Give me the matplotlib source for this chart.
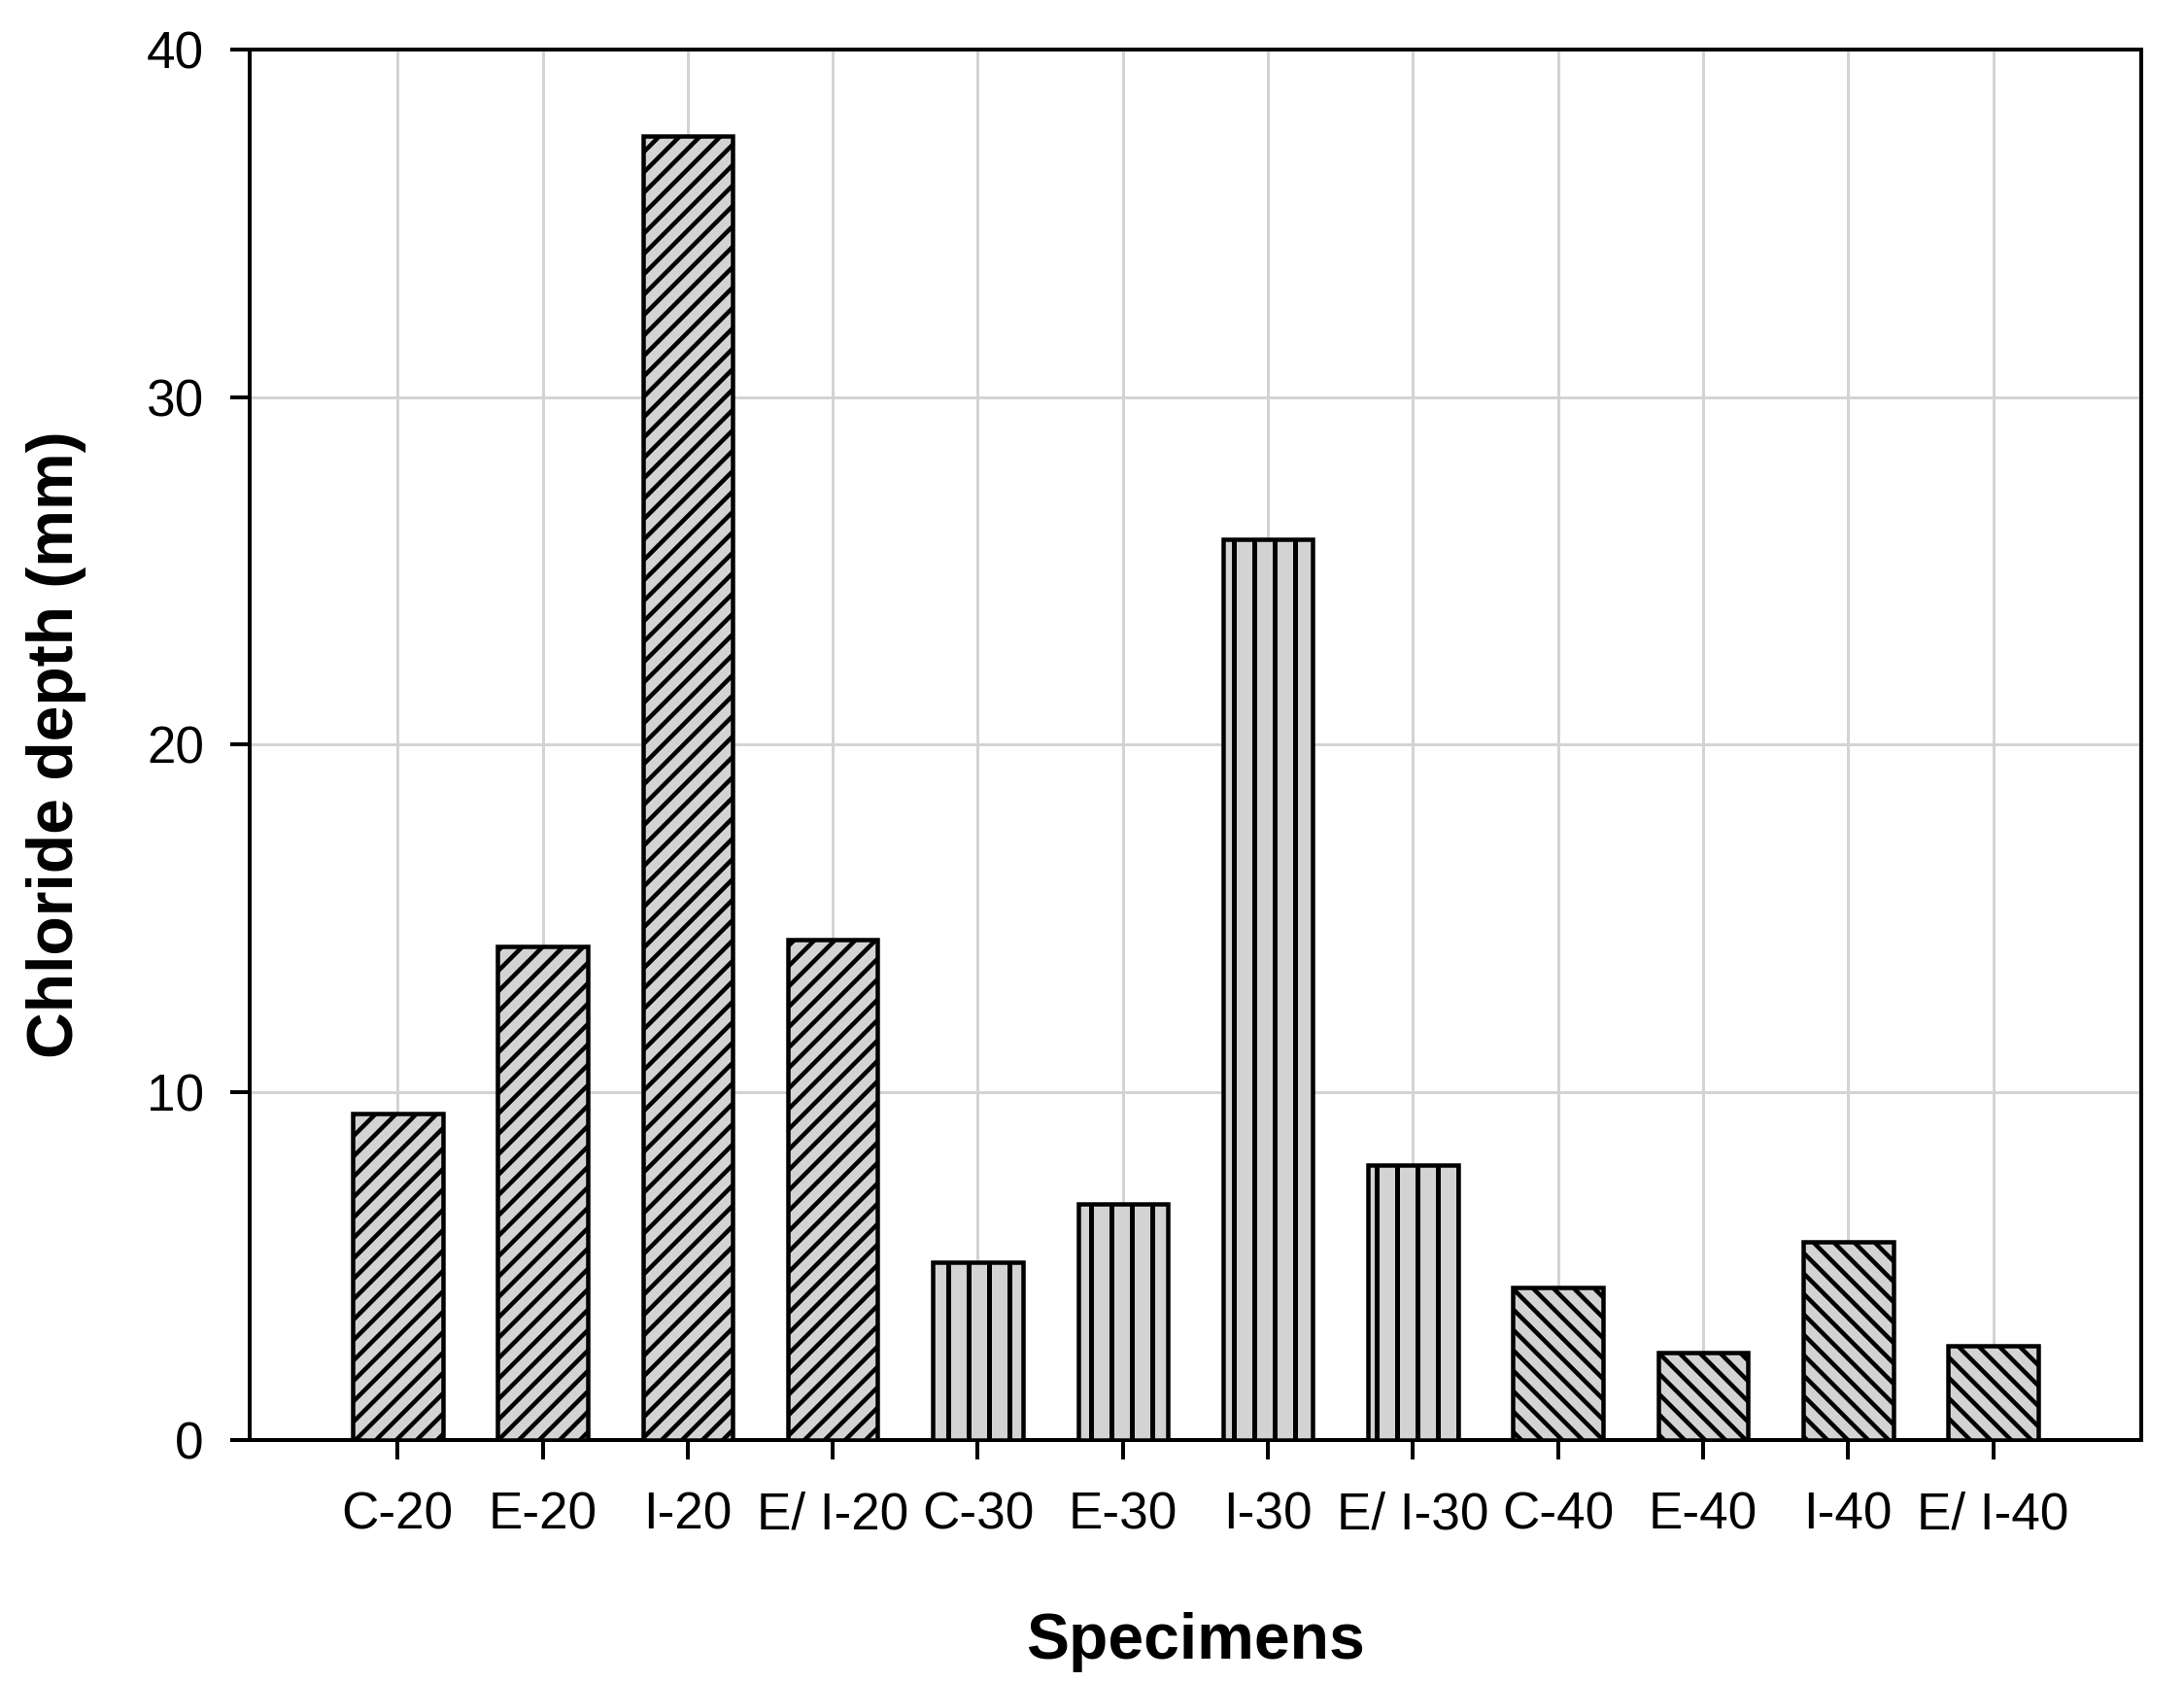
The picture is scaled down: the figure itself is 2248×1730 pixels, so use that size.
import matplotlib
matplotlib.use("Agg")
import matplotlib.pyplot as plt

DPI = 126


def px(p):
    return p * 72.0 / DPI


plt.rcParams['font.family'] = ['Liberation Sans', 'DejaVu Sans']
plt.rcParams['hatch.linewidth'] = px(4.5)

categories = ["C-20", "E-20", "I-20", "E/ I-20", "C-30", "E-30", "I-30", "E/ I-30",
              "C-40", "E-40", "I-40", "E/ I-40"]
values = [9.4, 14.2, 37.5, 14.4, 5.1, 6.8, 25.9, 7.9, 4.4, 2.5, 5.7, 2.7]
hatches = ["//"] * 4 + ["|"] * 4 + ["\\\\"] * 4

fig = plt.figure(figsize=(2248 / DPI, 1730 / DPI), dpi=DPI)
ax = fig.add_axes([0.1143, 0.1434, 0.8661, 0.8271])

x = list(range(len(categories)))
ax.set_axisbelow(True)
ax.grid(True, color='#d3d3d3', linewidth=px(3))
for xi, v, h in zip(x, values, hatches):
    lw_h = px(5) if h == "|" else px(4.5)
    with plt.rc_context({'hatch.linewidth': lw_h}):
        bars = ax.bar(xi, v, width=0.62, color='#d3d3d3', edgecolor='black',
                      linewidth=px(4.5), hatch=h, zorder=3)

ax.set_xlim(-1.02, 12.02)
ax.set_ylim(0, 40)
ax.set_yticks([0, 10, 20, 30, 40])
ax.set_xticks(x)
ax.set_xticklabels(categories)
for s in ax.spines.values():
    s.set_linewidth(px(4))
ax.tick_params(axis='both', length=px(20), width=px(4), labelsize=px(53), direction='out')
ax.tick_params(axis='x', pad=px(33))
ax.tick_params(axis='y', pad=px(27))

ax.set_xlabel("Specimens", fontsize=px(66), fontweight='bold')
ax.set_ylabel("Chloride depth (mm)", fontsize=px(66), fontweight='bold')
ax.xaxis.set_label_coords(0.5, -0.124)
ax.yaxis.set_label_coords(-0.0863, 0.5)

fig.savefig("out.png", dpi=DPI)
